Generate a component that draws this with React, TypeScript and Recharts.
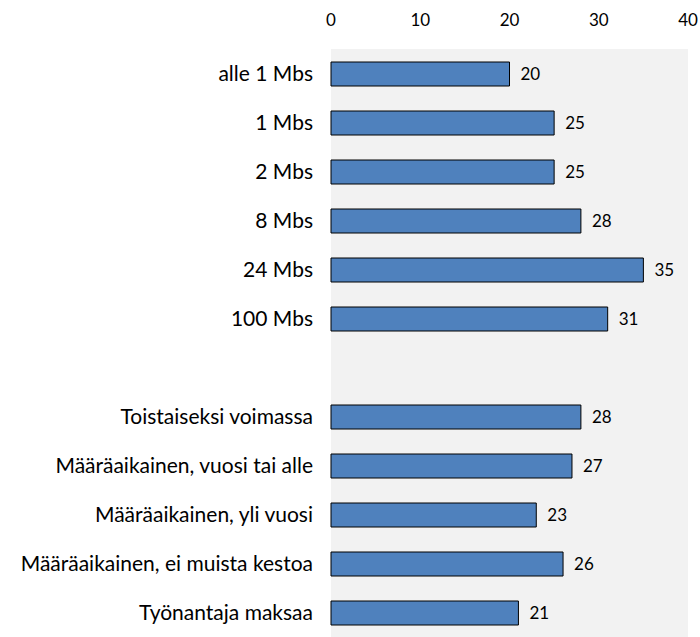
import { BarChart, Bar, XAxis, YAxis, CartesianGrid, LabelList } from 'recharts'

const categories = [
  'alle 1 Mbs',
  '1 Mbs',
  '2 Mbs',
  '8 Mbs',
  '24 Mbs',
  '100 Mbs',
  '',
  'Toistaiseksi voimassa',
  'Määräaikainen, vuosi tai alle',
  'Määräaikainen, yli vuosi',
  'Määräaikainen, ei muista kestoa',
  'Työnantaja maksaa',
]
const values: (number | null)[] = [20, 25, 25, 28, 35, 31, null, 28, 27, 23, 26, 21]
const xTicks = [0, 10, 20, 30, 40]

const data = categories.map((name, i) => ({ name, value: values[i] }))

const font = 'Lato, "Open Sans", sans-serif'

export default function App() {
  return (
    <div style={{ position: 'absolute', left: 0, top: 0, width: 700, height: 637, background: '#fff', fontFamily: font }}>
      <BarChart
        width={700}
        height={637}
        data={data}
        layout="vertical"
        margin={{ top: 0, right: 12, left: 0, bottom: 0 }}
        barCategoryGap={0}
      >
        <CartesianGrid fill="#f2f2f2" horizontal={false} vertical={false} />
        <XAxis
          type="number"
          orientation="top"
          domain={[0, 40]}
          ticks={xTicks}
          height={49}
          axisLine={false}
          tickLine={false}
          tickMargin={17}
          tick={{ fontSize: 17, fill: '#000', fontFamily: font }}
        />
        <YAxis
          type="category"
          dataKey="name"
          width={331}
          axisLine={false}
          tickLine={false}
          tickMargin={12}
          interval={0}
          tick={{ fontSize: 21, fill: '#000', fontFamily: font }}
        />
        <Bar dataKey="value" fill="#4f81bd" stroke="#000" strokeWidth={1} barSize={24} isAnimationActive={false}>
          <LabelList dataKey="value" position="right" offset={11} style={{ fontSize: 17, fill: '#000', fontFamily: font }} />
        </Bar>
      </BarChart>
    </div>
  )
}
